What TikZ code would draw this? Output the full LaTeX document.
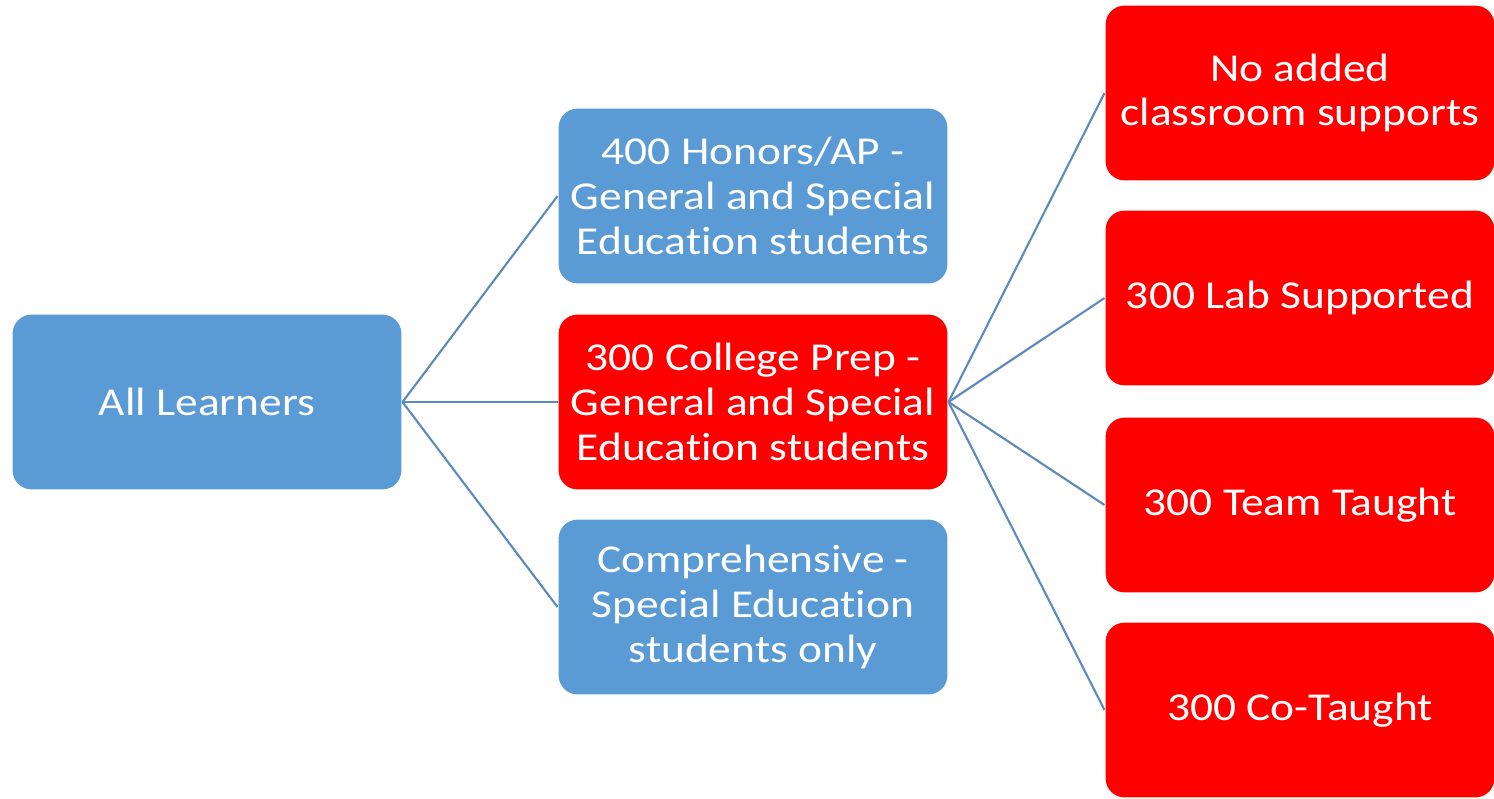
\documentclass[tikz,border=0pt]{standalone}
\usepackage{fontspec}
\setmainfont{Carlito}[FakeStretch=1.15, Ligatures=NoCommon]
\definecolor{learnblue}{RGB}{91, 155, 213}
\definecolor{supportred}{RGB}{255, 0, 0}
\definecolor{linkblue}{RGB}{92, 138, 190}
\usepackage{tikz}
\usetikzlibrary{positioning}
\tikzset{
  box/.style={draw=white, line width=0.6pt, rounded corners=11pt, minimum width=7.8cm, minimum height=3.52cm,
    text=white, align=center, inner sep=4pt, font=\fontsize{22.5}{25.5}\selectfont},
  bluebox/.style={box, fill=learnblue},
  redbox/.style={box, fill=supportred},
  link/.style={draw=linkblue, line width=1.2pt}
}

\begin{document}
\begin{tikzpicture}[x=0.02cm, y=-0.02cm]
  \useasboundingbox (0, 0) rectangle (1494, 798);

  % Root
  \node[bluebox] (all) at (207, 402) {All Learners};

  % Course levels
  \node[bluebox] (honors) at (753, 196) {400 Honors/AP -\\General and Special\\Education students};
  \node[redbox] (prep) at (753, 402) {300 College Prep -\\General and Special\\Education students};
  \node[bluebox] (comp) at (753, 607) {Comprehensive -\\Special Education\\students only};

  % Classroom supports
  \node[redbox] (noadded) at (1300, 93) {No added\\classroom supports};
  \node[redbox] (lab) at (1300, 298) {300 Lab Supported};
  \node[redbox] (team) at (1300, 505) {300 Team Taught};
  \node[redbox] (cotaught) at (1300, 710) {300 Co-Taught};

  % Connectors
  \draw[link] (all.east) -- (honors.west);
  \draw[link] (all.east) -- (prep.west);
  \draw[link] (all.east) -- (comp.west);
  \draw[link] (prep.east) -- (noadded.west);
  \draw[link] (prep.east) -- (lab.west);
  \draw[link] (prep.east) -- (team.west);
  \draw[link] (prep.east) -- (cotaught.west);
\end{tikzpicture}
\end{document}
